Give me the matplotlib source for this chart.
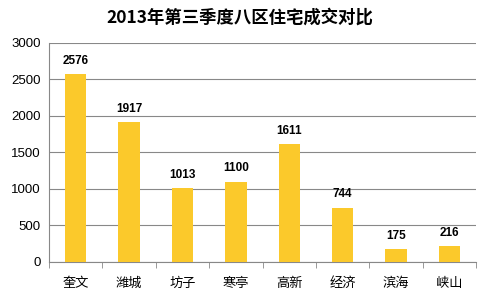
import matplotlib.pyplot as plt
import numpy as np

plt.rcParams['font.family'] = ['Noto Sans CJK SC', 'DejaVu Sans']

# Data
districts = ["奎文", "潍城", "坊子", "寒亭", "高新", "经济", "滨海", "峡山"]
values = [2576, 1917, 1013, 1100, 1611, 744, 175, 216]

fig = plt.figure(figsize=(4.8, 3.0), dpi=100)
ax = fig.add_axes([0.102, 0.127, 0.89, 0.73])

x = np.arange(len(districts))
ax.bar(x, values, width=0.4, color="#FBC92B", zorder=3)

for xi, v in zip(x, values):
    ax.text(xi, v + 100, str(v), ha="center", va="bottom",
            fontsize=8.5, fontweight="bold", color="black",
            family="Liberation Sans")

ax.set_xlim(-0.5, len(districts) - 0.5)
ax.set_ylim(0, 3000)
ax.set_yticks(range(0, 3001, 500))
ax.tick_params(axis="y", length=0, labelsize=9.5, pad=6)
for lbl in ax.get_yticklabels():
    lbl.set_family("Liberation Sans")
ax.set_xticks(x)
ax.set_xticklabels(districts, fontsize=9.5)
ax.set_xticks(np.arange(-0.5, len(districts), 1), minor=True)
ax.tick_params(axis="x", which="major", length=0, pad=11)
ax.tick_params(axis="x", which="minor", length=4, color="#888888")

ax.grid(axis="y", color="#888888", linewidth=0.8, zorder=0)
for s in ["top", "right"]:
    ax.spines[s].set_visible(False)
ax.spines["left"].set_color("#888888")
ax.spines["bottom"].set_color("#888888")

fig.suptitle("2013年第三季度八区住宅成交对比", x=0.5, y=0.97,
             fontsize=12.5, fontweight="bold")

fig.savefig("out.png", dpi=100)
